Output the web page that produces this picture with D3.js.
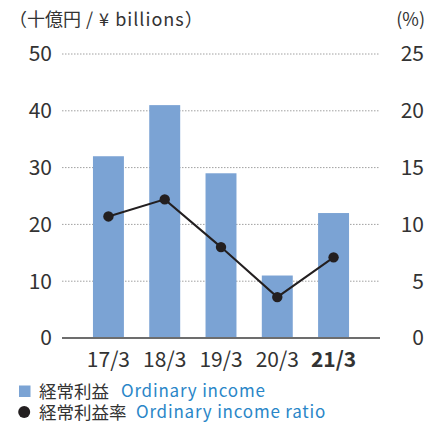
<!DOCTYPE html>
<html>
<head>
<meta charset="utf-8">
<script src="https://cdn.jsdelivr.net/npm/d3@7"></script>
<style>
  body { margin: 0; background: #fff; }
  text { font-family: "Noto Sans CJK JP", "Noto Sans", sans-serif; }
</style>
</head>
<body>
<script>
const years = ['17/3', '18/3', '19/3', '20/3', '21/3']
const income = [32, 41, 29, 11, 22]
const ratio = [10.7, 12.2, 8.0, 3.6, 7.1]
const leftTicks = [0, 10, 20, 30, 40, 50]
const rightTicks = [0, 5, 10, 15, 20, 25]

const width = 430
const height = 427
const plotLeft = 62, plotRight = 380, plotTop = 54, plotBottom = 338

const svg = d3.select('body')
	.append('svg')
	.attr('width', width)
	.attr('height', height)

const x = d3.scaleBand()
	.domain(years)
	.range([plotLeft, plotRight])
	.paddingInner(0.45)
	.paddingOuter(0.55)

const yL = d3.scaleLinear().domain([0, 50]).range([plotBottom, plotTop])
const yR = d3.scaleLinear().domain([0, 25]).range([plotBottom, plotTop])

// grid
svg.selectAll('line.grid')
	.data(leftTicks.filter(d => d > 0))
	.enter()
	.append('line')
	.attr('class', 'grid')
	.attr('x1', plotLeft)
	.attr('x2', plotRight)
	.attr('y1', d => yL(d))
	.attr('y2', d => yL(d))
	.attr('stroke', '#a0a0a0')
	.attr('stroke-width', 1)
	.attr('stroke-dasharray', '1.5,1.5')

// bars
svg.selectAll('rect.bar')
	.data(income)
	.enter()
	.append('rect')
	.attr('class', 'bar')
	.attr('x', (d, i) => x(years[i]))
	.attr('y', d => yL(d))
	.attr('width', x.bandwidth())
	.attr('height', d => yL(0) - yL(d))
	.attr('fill', '#7ba3d4')

// baseline
svg.append('line')
	.attr('x1', plotLeft)
	.attr('x2', plotRight)
	.attr('y1', yL(0))
	.attr('y2', yL(0))
	.attr('stroke', '#6d6d6d')
	.attr('stroke-width', 2)

// ratio line
const line = d3.line()
	.x((d, i) => x(years[i]) + x.bandwidth() / 2)
	.y(d => yR(d))

svg.append('path')
	.datum(ratio)
	.attr('d', line)
	.attr('fill', 'none')
	.attr('stroke', '#231f20')
	.attr('stroke-width', 2)

svg.selectAll('circle.dot')
	.data(ratio)
	.enter()
	.append('circle')
	.attr('class', 'dot')
	.attr('cx', (d, i) => x(years[i]) + x.bandwidth() / 2)
	.attr('cy', d => yR(d))
	.attr('r', 5.2)
	.attr('fill', '#231f20')

// axis labels
svg.selectAll('text.yl')
	.data(leftTicks)
	.enter()
	.append('text')
	.attr('class', 'yl')
	.attr('x', 52)
	.attr('y', d => yL(d))
	.attr('dy', '0.35em')
	.attr('text-anchor', 'end')
	.attr('font-size', 21)
	.attr('fill', '#333')
	.text(d => d)

svg.selectAll('text.yr')
	.data(rightTicks)
	.enter()
	.append('text')
	.attr('class', 'yr')
	.attr('x', 424)
	.attr('y', d => yR(d))
	.attr('dy', '0.35em')
	.attr('text-anchor', 'end')
	.attr('font-size', 21)
	.attr('fill', '#333')
	.text(d => d)

svg.selectAll('text.xl')
	.data(years)
	.enter()
	.append('text')
	.attr('class', 'xl')
	.attr('x', d => x(d) + x.bandwidth() / 2)
	.attr('y', 360)
	.attr('dy', '0.35em')
	.attr('text-anchor', 'middle')
	.attr('font-size', 21)
	.attr('font-weight', (d, i) => i === years.length - 1 ? 'bold' : 'normal')
	.attr('fill', '#333')
	.text(d => d)

// units
const unit = svg.append('text')
	.attr('x', 9)
	.attr('y', 20)
	.attr('dy', '0.35em')
	.attr('font-size', 18)
	.attr('fill', '#333')
unit.append('tspan').text('（十億円')
unit.append('tspan').attr('letter-spacing', 1).text(' / ¥ billions')
unit.append('tspan').text('）')

svg.append('text')
	.attr('x', 425)
	.attr('y', 20)
	.attr('dy', '0.35em')
	.attr('text-anchor', 'end')
	.attr('font-size', 18)
	.attr('fill', '#333')
	.text('(%)')

// legend
svg.append('rect')
	.attr('x', 19).attr('y', 385.5)
	.attr('width', 11.5).attr('height', 11.5)
	.attr('fill', '#7ba3d4')
svg.append('circle')
	.attr('cx', 24.2).attr('cy', 412)
	.attr('r', 6)
	.attr('fill', '#231f20')

const legend = [
	['経常利益', 'Ordinary income', 391.5, 121],
	['経常利益率', 'Ordinary income ratio', 412.5, 136]
]
legend.forEach(l => {
	svg.append('text')
		.attr('x', 39)
		.attr('y', l[2])
		.attr('dy', '0.35em')
		.attr('font-size', 17.5)
		.attr('fill', '#333')
		.text(l[0])
	svg.append('text')
		.attr('x', l[3])
		.attr('y', l[2])
		.attr('dy', '0.35em')
		.attr('font-size', 17)
		.attr('letter-spacing', 0.8)
		.attr('fill', '#2a86c8')
		.text(l[1])
})
</script>
</body>
</html>
